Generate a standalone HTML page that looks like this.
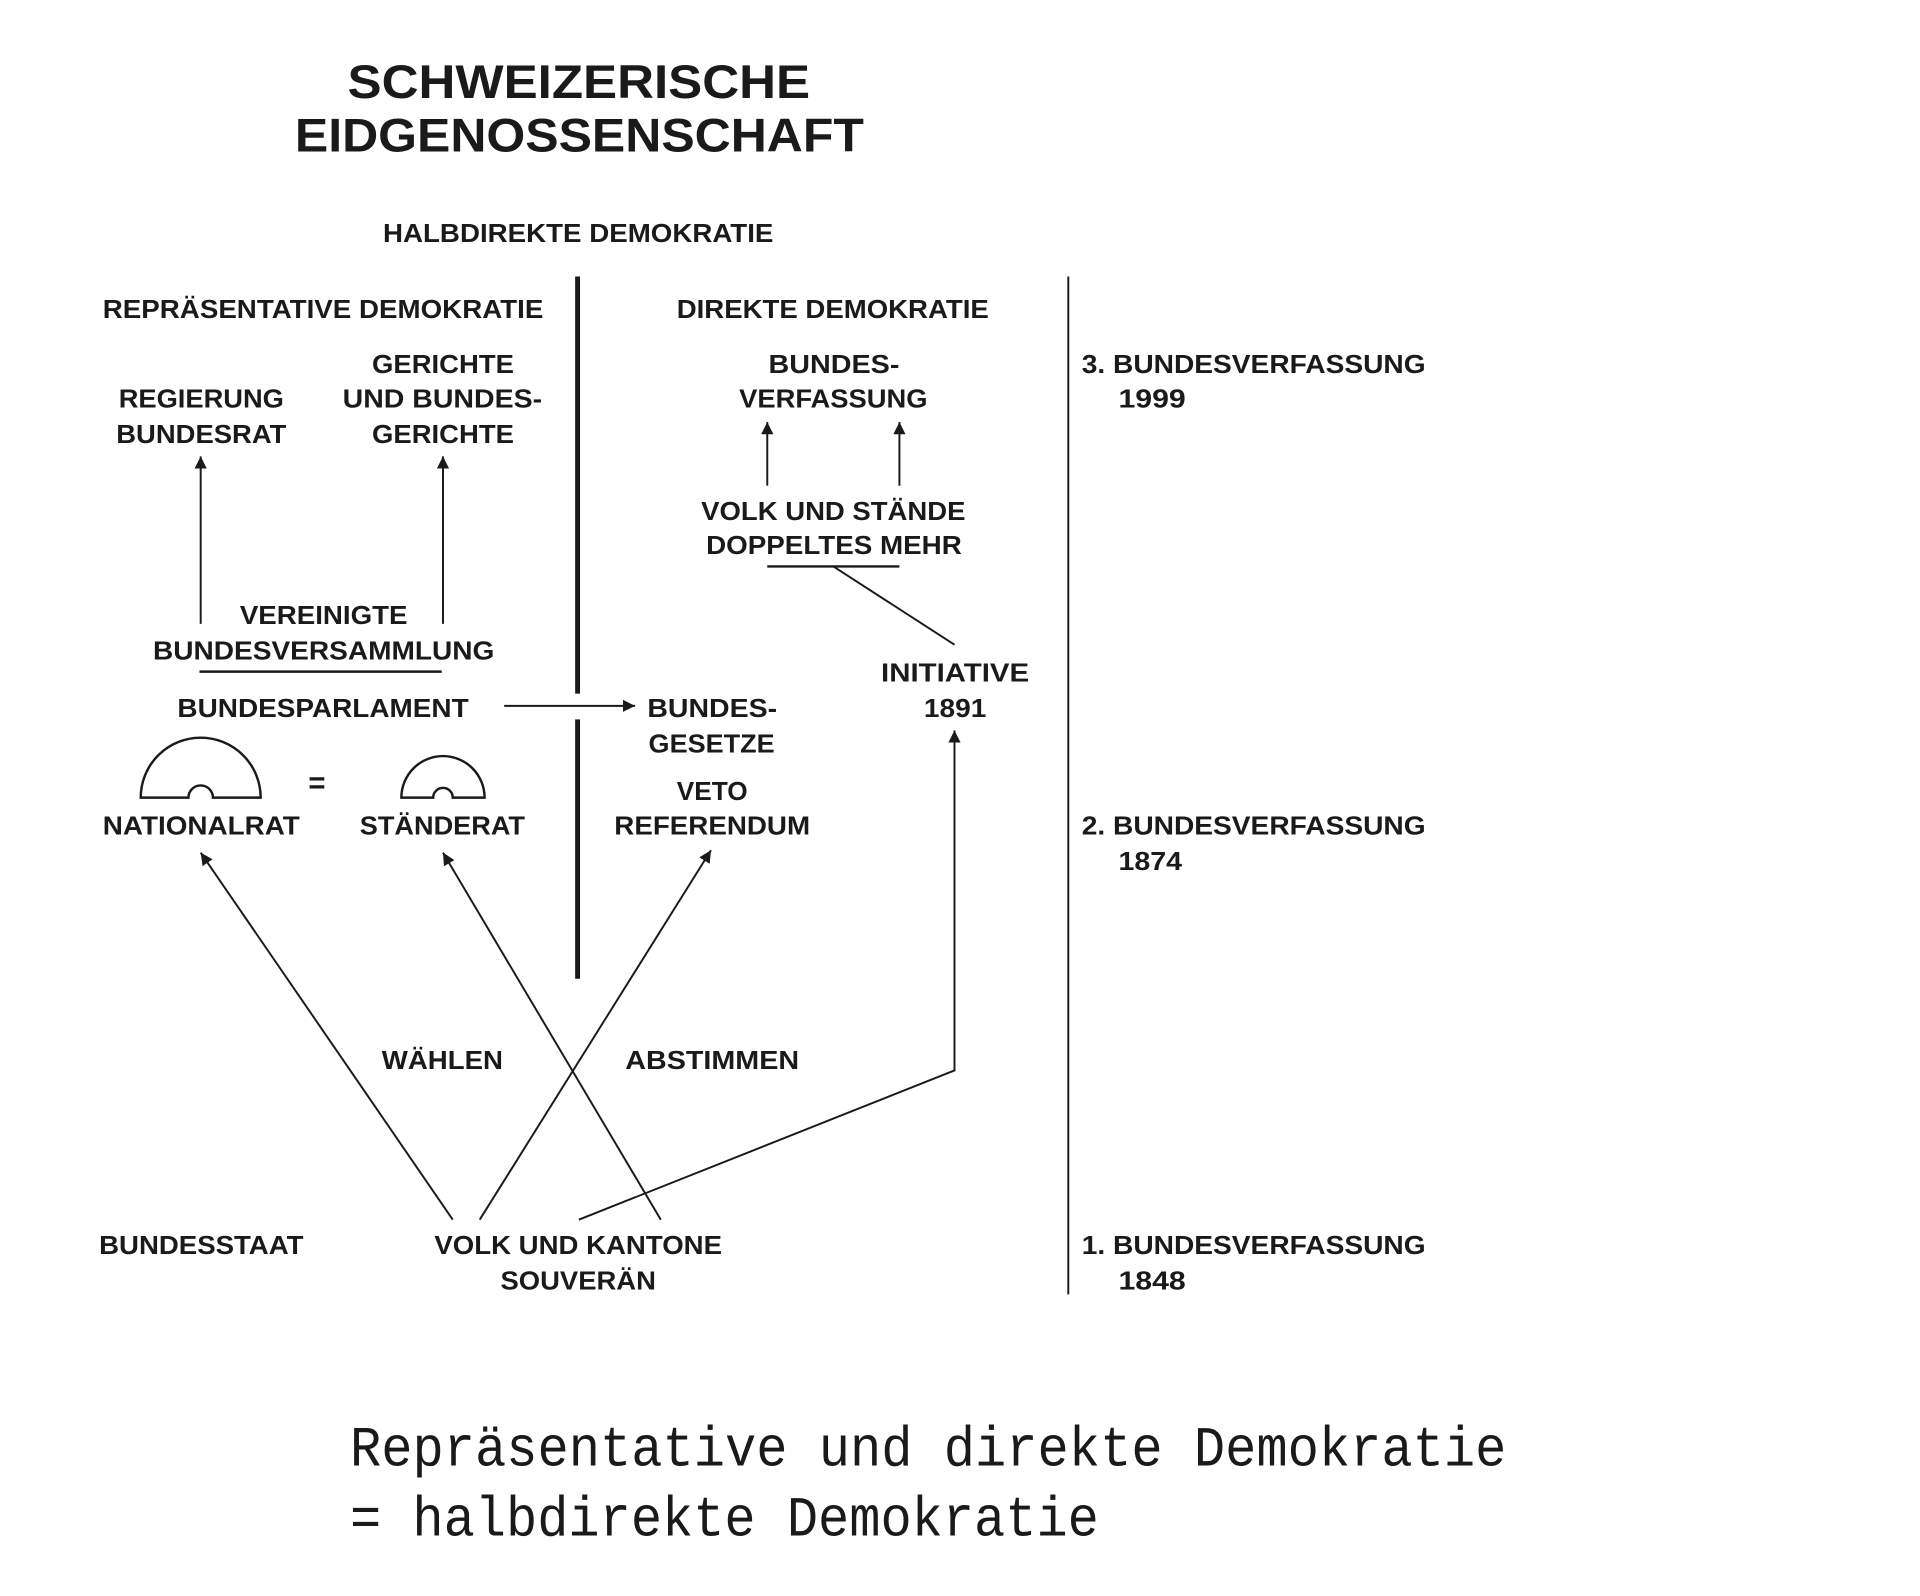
<!DOCTYPE html>
<html><head><meta charset="utf-8"><style>
html,body{margin:0;padding:0;background:#fff;}
svg{display:block;}
text{font-family:"Liberation Sans",sans-serif;font-weight:bold;fill:#1a1a1a;font-size:21px;}
.t{font-size:39px;}
.m{font-family:"Liberation Mono",monospace;font-weight:normal;font-size:46px;}
</style></head><body>
<svg width="1920" height="1596" viewBox="0 0 1569 1304.6" preserveAspectRatio="none" xmlns="http://www.w3.org/2000/svg">
<defs><marker id="a" viewBox="0 0 10 10" refX="10" refY="5" markerWidth="10" markerHeight="10" markerUnits="userSpaceOnUse" orient="auto"><path d="M0,0L10,5L0,10z" fill="#1a1a1a"/></marker></defs>
<g>
<text class="t" x="284" y="80" textLength="378" lengthAdjust="spacingAndGlyphs">SCHWEIZERISCHE</text>
<text class="t" x="241" y="124" textLength="465" lengthAdjust="spacingAndGlyphs">EIDGENOSSENSCHAFT</text>
<text x="313" y="198" textLength="319" lengthAdjust="spacingAndGlyphs">HALBDIREKTE DEMOKRATIE</text>
<text x="84" y="260" textLength="360" lengthAdjust="spacingAndGlyphs">REPRÄSENTATIVE DEMOKRATIE</text>
<text x="553" y="260" textLength="255" lengthAdjust="spacingAndGlyphs">DIREKTE DEMOKRATIE</text>
<text x="884" y="305" textLength="281" lengthAdjust="spacingAndGlyphs">3. BUNDESVERFASSUNG</text>
<text x="914" y="333" textLength="55" lengthAdjust="spacingAndGlyphs">1999</text>
<text x="304" y="305" textLength="116" lengthAdjust="spacingAndGlyphs">GERICHTE</text>
<text x="280" y="333" textLength="163" lengthAdjust="spacingAndGlyphs">UND BUNDES-</text>
<text x="304" y="362" textLength="116" lengthAdjust="spacingAndGlyphs">GERICHTE</text>
<text x="97" y="333" textLength="135" lengthAdjust="spacingAndGlyphs">REGIERUNG</text>
<text x="95" y="362" textLength="139" lengthAdjust="spacingAndGlyphs">BUNDESRAT</text>
<text x="628" y="305" textLength="107" lengthAdjust="spacingAndGlyphs">BUNDES-</text>
<text x="604" y="333" textLength="154" lengthAdjust="spacingAndGlyphs">VERFASSUNG</text>
<text x="573" y="425" textLength="216" lengthAdjust="spacingAndGlyphs">VOLK UND STÄNDE</text>
<text x="577" y="453" textLength="209" lengthAdjust="spacingAndGlyphs">DOPPELTES MEHR</text>
<text x="196" y="510" textLength="137" lengthAdjust="spacingAndGlyphs">VEREINIGTE</text>
<text x="125" y="539" textLength="279" lengthAdjust="spacingAndGlyphs">BUNDESVERSAMMLUNG</text>
<text x="145" y="586" textLength="238" lengthAdjust="spacingAndGlyphs">BUNDESPARLAMENT</text>
<text x="529" y="586" textLength="106" lengthAdjust="spacingAndGlyphs">BUNDES-</text>
<text x="530" y="615" textLength="103" lengthAdjust="spacingAndGlyphs">GESETZE</text>
<text x="720" y="557" textLength="121" lengthAdjust="spacingAndGlyphs">INITIATIVE</text>
<text x="755" y="586" textLength="51" lengthAdjust="spacingAndGlyphs">1891</text>
<text x="553" y="654" textLength="58" lengthAdjust="spacingAndGlyphs">VETO</text>
<text x="502" y="682" textLength="160" lengthAdjust="spacingAndGlyphs">REFERENDUM</text>
<text x="84" y="682" textLength="161" lengthAdjust="spacingAndGlyphs">NATIONALRAT</text>
<text x="294" y="682" textLength="135" lengthAdjust="spacingAndGlyphs">STÄNDERAT</text>
<text x="884" y="682" textLength="281" lengthAdjust="spacingAndGlyphs">2. BUNDESVERFASSUNG</text>
<text x="914" y="711" textLength="52" lengthAdjust="spacingAndGlyphs">1874</text>
<text x="312" y="874" textLength="99" lengthAdjust="spacingAndGlyphs">WÄHLEN</text>
<text x="511" y="874" textLength="142" lengthAdjust="spacingAndGlyphs">ABSTIMMEN</text>
<text x="81" y="1025" textLength="167" lengthAdjust="spacingAndGlyphs">BUNDESSTAAT</text>
<text x="355" y="1025" textLength="235" lengthAdjust="spacingAndGlyphs">VOLK UND KANTONE</text>
<text x="409" y="1054" textLength="127" lengthAdjust="spacingAndGlyphs">SOUVERÄN</text>
<text x="884" y="1025" textLength="281" lengthAdjust="spacingAndGlyphs">1. BUNDESVERFASSUNG</text>
<text x="914" y="1054" textLength="55" lengthAdjust="spacingAndGlyphs">1848</text>
<text x="252" y="648" style="font-size:24px">=</text>
<text class="m" x="286" y="1198" textLength="945" lengthAdjust="spacingAndGlyphs">Repräsentative und direkte Demokratie</text>
<text class="m" x="286" y="1255" textLength="612" lengthAdjust="spacingAndGlyphs">= halbdirekte Demokratie</text>
</g>
<g stroke="#1a1a1a" fill="none" stroke-width="1.6">
<line x1="472" y1="226" x2="472" y2="567" stroke-width="4"/>
<line x1="472" y1="588" x2="472" y2="800" stroke-width="4"/>
<line x1="873" y1="226" x2="873" y2="1058"/>
<line x1="164" y1="510" x2="164" y2="373" marker-end="url(#a)"/>
<line x1="362" y1="510" x2="362" y2="373" marker-end="url(#a)"/>
<line x1="627" y1="397" x2="627" y2="345" marker-end="url(#a)"/>
<line x1="735" y1="397" x2="735" y2="345" marker-end="url(#a)"/>
<line x1="627" y1="463" x2="735" y2="463" stroke-width="2"/>
<line x1="681" y1="463" x2="780" y2="527"/>
<line x1="163" y1="549" x2="361" y2="549" stroke-width="2"/>
<line x1="412" y1="577" x2="519" y2="577" marker-end="url(#a)"/>
<polyline points="473,997 780,875 780,597" marker-end="url(#a)"/>
<line x1="370" y1="997" x2="164" y2="697" marker-end="url(#a)"/>
<line x1="540" y1="997" x2="362" y2="697" marker-end="url(#a)"/>
<line x1="392" y1="997" x2="581" y2="695" marker-end="url(#a)"/>
<path d="M115,652 A49,49 0 0 1 213,652 L174,652 A10,10 0 0 0 154,652 Z" stroke-width="2"/>
<path d="M328,652 A34,34 0 0 1 396,652 L370,652 A8,8 0 0 0 354,652 Z" stroke-width="2"/>
</g>
</svg>
</body></html>
